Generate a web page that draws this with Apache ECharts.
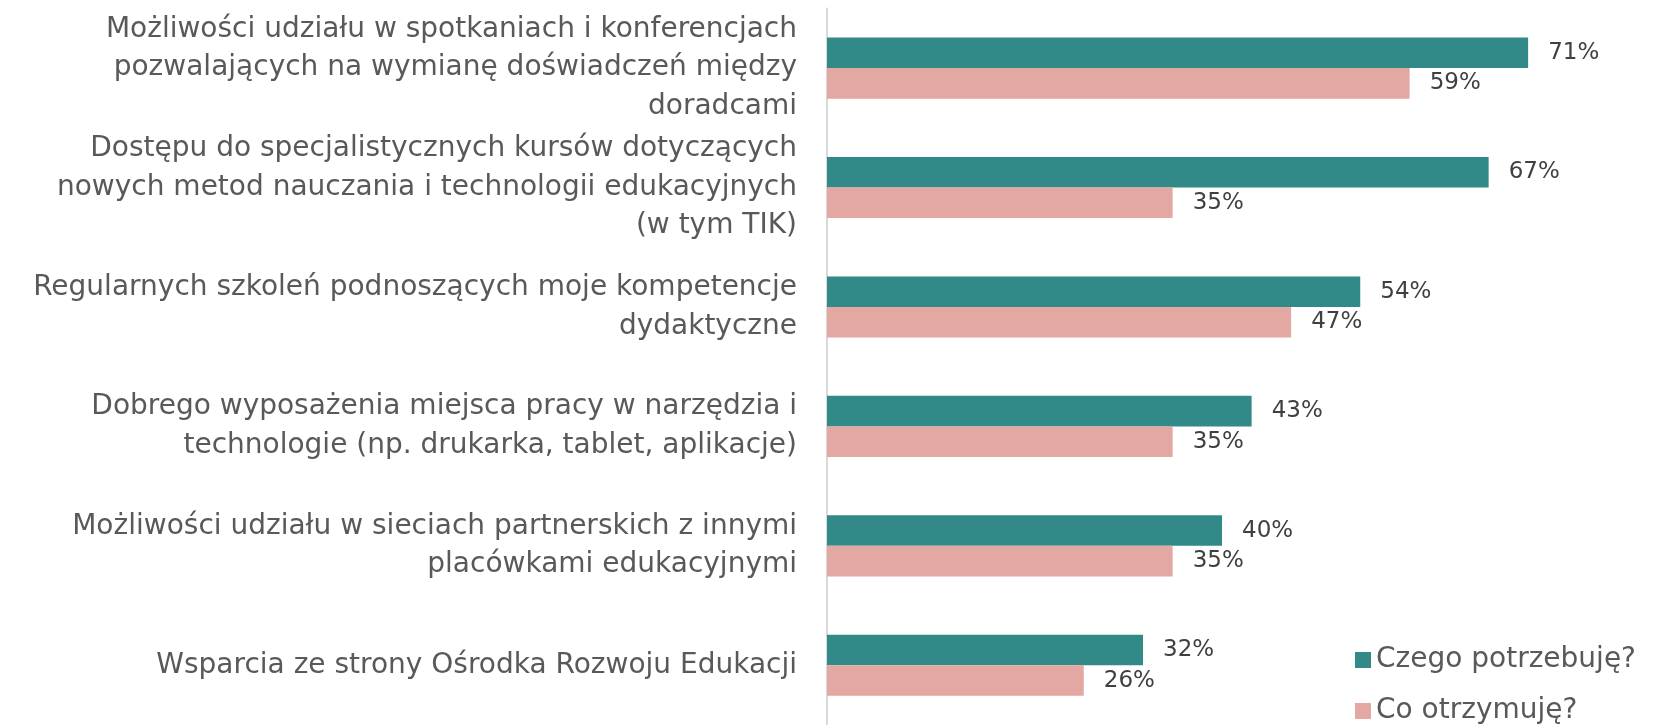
<!DOCTYPE html>
<html>
<head>
<meta charset="utf-8">
<title>Potrzeby i wsparcie</title>
<script src="https://cdn.jsdelivr.net/npm/echarts@6/dist/echarts.min.js"></script>
<style>
  html, body { margin: 0; padding: 0; background: #fff; }
  #chart { width: 1655px; height: 725px; }
</style>
</head>
<body>
<div id="chart"></div>
<script>
const categories = [
  'Możliwości udziału w spotkaniach i konferencjach\npozwalających na wymianę doświadczeń między\ndoradcami',
  'Dostępu do specjalistycznych kursów dotyczących\nnowych metod nauczania i technologii edukacyjnych\n(w tym TIK)',
  'Regularnych szkoleń podnoszących moje kompetencje\ndydaktyczne',
  'Dobrego wyposażenia miejsca pracy w narzędzia i\ntechnologie (np. drukarka, tablet, aplikacje)',
  'Możliwości udziału w sieciach partnerskich z innymi\nplacówkami edukacyjnymi',
  'Wsparcia ze strony Ośrodka Rozwoju Edukacji'
];
const seriesNames = ['Czego potrzebuję?', 'Co otrzymuję?'];
const needValues = [71, 67, 54, 43, 40, 32];
const receiveValues = [59, 35, 47, 35, 35, 26];

const font = '"DejaVu Sans", sans-serif';
const chart = echarts.init(document.getElementById('chart'));

const labelStyle = {
  show: true,
  position: 'right',
  distance: 20,
  formatter: '{c}%',
  color: '#404040',
  fontFamily: font,
  fontSize: 23
};

// one legend per row, vertical legend wraps into a second column otherwise
const legendRow = (name, top) => ({
  data: [name],
  orient: 'vertical',
  left: 1355,
  top: top,
  padding: 0,
  icon: 'rect',
  itemWidth: 16,
  itemHeight: 16,
  textStyle: {
    color: '#595959',
    fontFamily: font,
    fontSize: 28
  }
});

const option = {
  animation: false,
  textStyle: { fontFamily: font },
  grid: {
    left: 827,
    right: 38,
    top: 8.4,
    height: 727.2,
    containLabel: false
  },
  legend: [
    legendRow(seriesNames[0], 646),
    legendRow(seriesNames[1], 697)
  ],
  xAxis: {
    type: 'value',
    min: 0,
    max: 80,
    show: false
  },
  yAxis: {
    type: 'category',
    data: categories,
    inverse: true,
    axisLine: { show: true, lineStyle: { color: '#d9d9d9', width: 2 } },
    axisTick: { show: false },
    axisLabel: {
      margin: 30,
      align: 'right',
      color: '#595959',
      fontFamily: font,
      fontSize: 28,
      lineHeight: 38.5
    }
  },
  series: [
    {
      name: seriesNames[0],
      type: 'bar',
      data: needValues,
      barGap: '0%',
      barCategoryGap: '48.8%',
      itemStyle: { color: '#318a87' },
      label: labelStyle
    },
    {
      name: seriesNames[1],
      type: 'bar',
      data: receiveValues,
      itemStyle: { color: '#e2a8a1' },
      label: labelStyle
    }
  ]
};

chart.setOption(option);
</script>
</body>
</html>
